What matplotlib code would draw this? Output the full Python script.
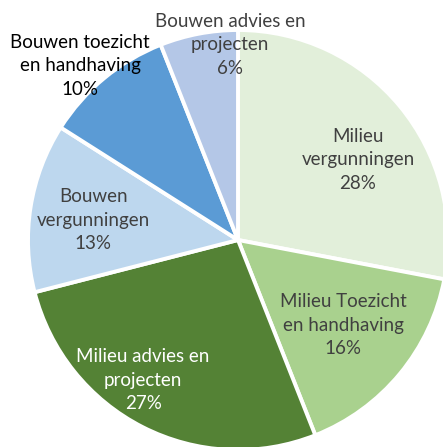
import matplotlib
matplotlib.use("Agg")
import matplotlib.pyplot as plt

categories = ["Milieu\nvergunningen", "Milieu Toezicht\nen handhaving", "Milieu advies en\nprojecten",
              "Bouwen\nvergunningen", "Bouwen toezicht\nen handhaving", "Bouwen advies en\nprojecten"]
shares = [28, 16, 27, 13, 10, 6]
colors = ["#E2EFDA", "#A9D18E", "#548235", "#BDD7EE", "#5B9BD5", "#B4C7E7"]
text_colors = ["#404040", "#404040", "#FFFFFF", "#404040", "#000000", "#404040"]
# label centres in data units (pie radius = 1)
label_pos = [(0.571, 0.381), (0.50, -0.405), (-0.452, -0.667),
             (-0.69, 0.095), (-0.752, 0.83), (-0.038, 0.929)]

W, H = 443, 447
cx, cy, R = 238, 240, 210  # pixel centre / radius of the pie

fig = plt.figure(figsize=(W / 100, H / 100), dpi=100)
ax = fig.add_axes([0, 0, 1, 1])
ax.axis("off")

wedges, _ = ax.pie(shares, colors=colors, startangle=90, counterclock=False,
                   radius=1, wedgeprops=dict(edgecolor="white", linewidth=2.8))

for lab, val, pos, tc in zip(categories, shares, label_pos, text_colors):
    ax.text(pos[0], pos[1], f"{lab}\n{val}%", ha="center", va="center",
            color=tc, fontsize=13.5, family="Lato", linespacing=1.45)

ax.set_xlim(-cx / R, (W - cx) / R)
ax.set_ylim(-(H - cy) / R, cy / R)
ax.set_aspect("auto")

fig.savefig("out.png", dpi=100)
